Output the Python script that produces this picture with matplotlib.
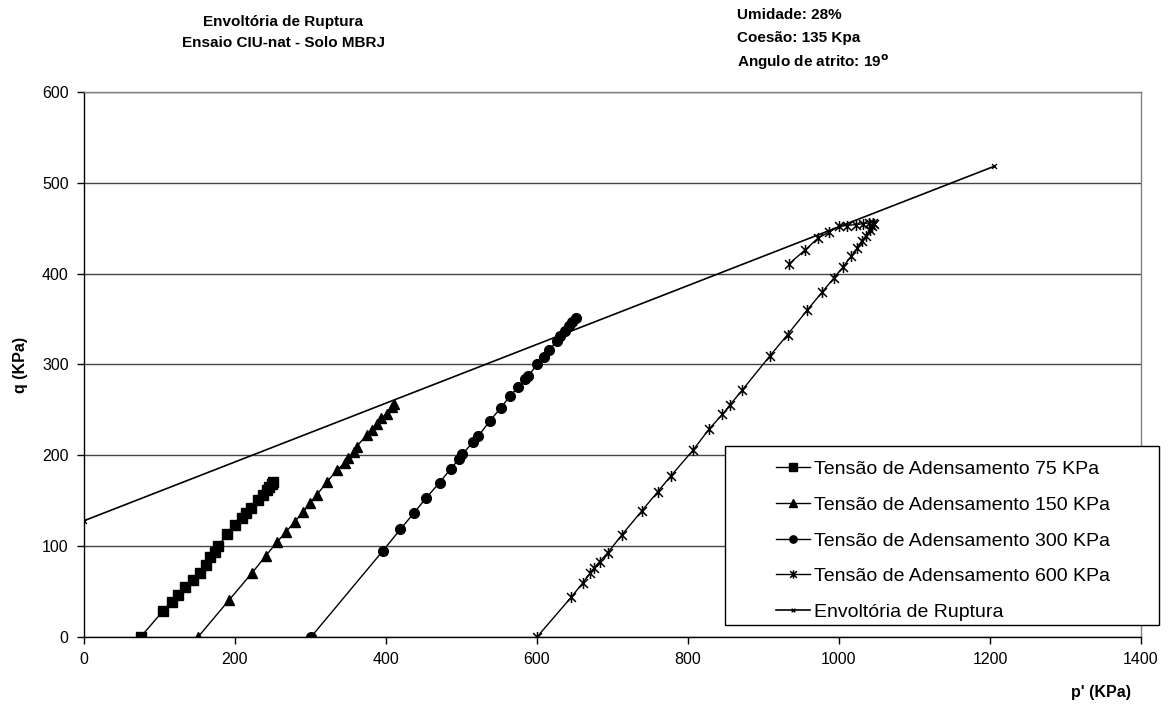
import matplotlib
matplotlib.use("Agg")
import matplotlib.pyplot as plt
from matplotlib.path import Path
from matplotlib.patches import Rectangle

# Stress paths p' x q (KPa) for each consolidation stress
p_75 = [75, 105, 116, 125, 134, 144, 153, 162, 167, 173.5, 178, 189, 200, 209,
        214.5, 221, 230, 236.5, 242, 245.5, 248.5, 250.7]
q_75 = [0, 29, 39, 46, 55, 63, 70, 79, 88, 94, 100, 113, 123, 131,
        136, 142, 151, 156, 162, 165.6, 168, 171]

p_150 = [151, 192.5, 223, 241, 256, 268, 279, 290.5, 299, 308, 322, 335.5, 345.5,
         350, 357, 361, 374.5, 381, 387.5, 394, 401, 407.5, 410.5]
q_150 = [0, 41, 71, 89.5, 105, 116, 127, 138, 147, 156, 171, 184, 192,
         197, 204, 209.5, 222.5, 228, 235, 241, 246, 253, 256.6]

p_300 = [300.7, 396, 419, 437.5, 453, 471, 485.5, 496.7, 501, 515.6, 522, 537.7,
         551.7, 564, 575, 584, 588.5, 600, 609, 616.4, 626, 631, 637, 643, 647, 651.6]
q_300 = [0, 95, 118.6, 137, 153, 170, 185, 196, 201, 215, 221, 238,
         252, 265, 275, 284, 287.5, 300, 308.7, 316, 326, 331.5, 337, 342.5, 347, 351]

p_600 = [600, 645, 661, 670, 675.5, 683, 694, 712, 739, 760, 777, 807, 828, 845.5,
         855.6, 872, 908, 932, 958, 978, 993, 1005, 1016, 1024, 1030, 1036, 1041,
         1044, 1046, 1045, 1040, 1032, 1022, 1010, 1000, 987, 972, 955, 934]
q_600 = [0, 43.5, 60, 70, 76, 83, 93, 112, 139, 160, 177, 206, 229, 245,
         255.5, 272, 309, 333, 360, 380, 395, 407, 419, 428, 436, 442, 448,
         452, 455, 456, 456, 455, 454, 453, 452, 446, 439, 426, 411]

# Failure envelope
p_env = [0, 1205]
q_env = [128, 518]

labels = ["Tensão de Adensamento 75 KPa", "Tensão de Adensamento 150 KPa",
          "Tensão de Adensamento 300 KPa", "Tensão de Adensamento 600 KPa",
          "Envoltória de Ruptura"]

x_ticks = [0, 200, 400, 600, 800, 1000, 1200, 1400]
y_ticks = [0, 100, 200, 300, 400, 500, 600]

W, H = 1168, 713
fig = plt.figure(figsize=(W / 100, H / 100), dpi=100)
fig.patch.set_facecolor("white")

def fx(px):
    return px / W

def fy(py):
    return 1 - py / H

ax = fig.add_axes([fx(84), fy(637), fx(1141) - fx(84), fy(92) - fy(637)])

# asterisk-like marker: an x crossed by a vertical stroke
star = Path([(-1, -1), (1, 1), (-1, 1), (1, -1), (0, -1.25), (0, 1.25)],
            [Path.MOVETO, Path.LINETO, Path.MOVETO, Path.LINETO, Path.MOVETO, Path.LINETO])
xmark = Path([(-1, -1), (1, 1), (-1, 1), (1, -1)],
             [Path.MOVETO, Path.LINETO, Path.MOVETO, Path.LINETO])

lw = 1.0
h1, = ax.plot(p_75, q_75, color="black", lw=lw, marker="s", ms=7, mfc="black", mec="black")
h2, = ax.plot(p_150, q_150, color="black", lw=lw, marker="^", ms=7.5, mfc="black", mec="black")
h3, = ax.plot(p_300, q_300, color="black", lw=lw, marker="o", ms=7, mfc="black", mec="black")
h4, = ax.plot(p_600, q_600, color="black", lw=lw, marker=star, ms=8, mew=1.1, mfc="none", mec="black")
h5, = ax.plot(p_env, q_env, color="black", lw=1.2, marker=xmark, ms=3.5, mew=1.0, mec="black")

ax.set_xlim(0, 1400)
ax.set_ylim(0, 600)
ax.set_xticks(x_ticks)
ax.set_yticks(y_ticks)
ax.set_xticklabels([str(v) for v in x_ticks])
ax.set_yticklabels([str(v) for v in y_ticks])
ax.yaxis.grid(True, color="#444444", lw=1.0)
ax.set_axisbelow(True)
for s in ("top", "right"):
    ax.spines[s].set_color("#808080")
    ax.spines[s].set_linewidth(1.0)
for s in ("left", "bottom"):
    ax.spines[s].set_color("black")
    ax.spines[s].set_linewidth(1.0)
ax.tick_params(axis="both", direction="out", length=5, width=1, color="black",
               labelsize=11.5, pad=6)
for lab in ax.get_xticklabels() + ax.get_yticklabels():
    lab.set_family(["Liberation Sans", "DejaVu Sans"])

# axis titles
fig.text(fx(20), fy(365), "q (KPa)", rotation=90, ha="center", va="center",
         fontsize=11.5, fontweight="bold", family=["Liberation Sans", "DejaVu Sans"])
fig.text(fx(1101), fy(693), "p' (KPa)", ha="center", va="center",
         fontsize=11.5, fontweight="bold", family=["Liberation Sans", "DejaVu Sans"])

# chart title and test parameters
bold = ["Liberation Sans", "DejaVu Sans"]
fig.text(fx(283), fy(22), "Envoltória de Ruptura", ha="center", va="center",
         fontsize=11, fontweight="bold", family=bold)
fig.text(fx(283), fy(43), "Ensaio CIU-nat - Solo MBRJ", ha="center", va="center",
         fontsize=11, fontweight="bold", family=bold)
fig.text(fx(737), fy(15), "Umidade: 28%", ha="left", va="center",
         fontsize=11, fontweight="bold", family=bold)
fig.text(fx(737), fy(38), "Coesão: 135 Kpa", ha="left", va="center",
         fontsize=11, fontweight="bold", family=bold)
fig.text(fx(737), fy(62), r"Angulo de atrito: 19$^{\mathbf{o}}$", ha="left", va="center",
         fontsize=11, fontweight="bold", family=bold)

# legend box
frame = Rectangle((fx(725), fy(625)), fx(1159) - fx(725), fy(446) - fy(625),
                  transform=fig.transFigure, facecolor="white", edgecolor="black",
                  lw=1.0, zorder=5)
fig.patches.append(frame)
leg = fig.legend([h1, h2, h3, h4, h5], labels, loc="upper left",
                 bbox_to_anchor=(fx(762), fy(447)), frameon=False,
                 prop={"family": ["Liberation Sans", "DejaVu Sans"], "size": 14},
                 handlelength=1.75, handletextpad=0.25, labelspacing=0.93,
                 borderpad=0.2, markerscale=0.75)
leg.set_zorder(6)

fig.savefig("out.png", dpi=100, facecolor="white")
